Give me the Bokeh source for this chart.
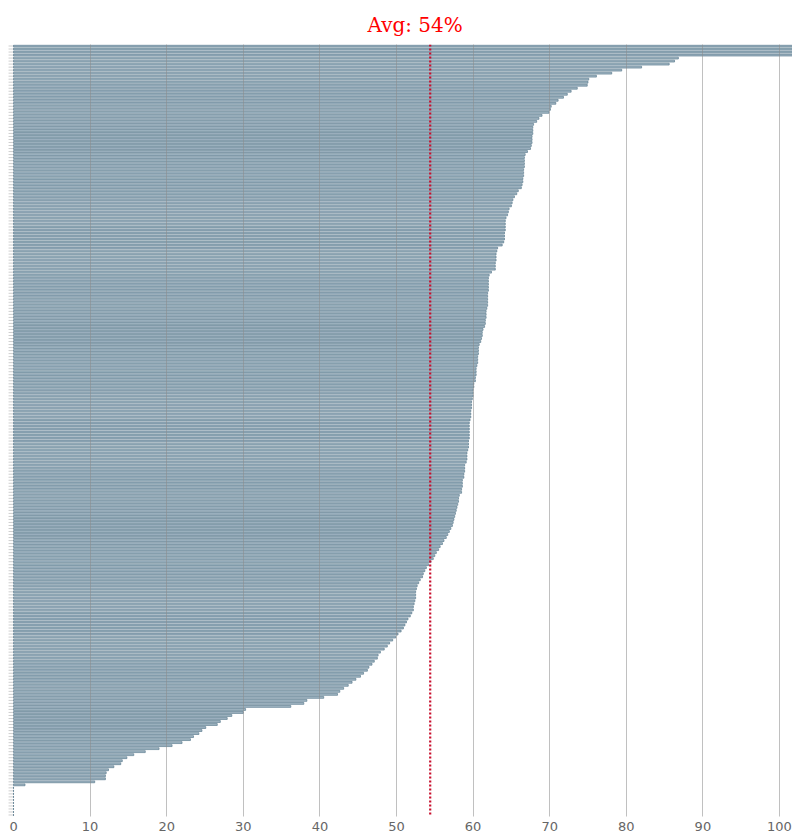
from bokeh.plotting import figure
from bokeh.models import Range1d, FixedTicker, Span, ColumnDataSource
from bokeh.embed import file_html
from bokeh.resources import INLINE

# ---- data (sorted descending) ----
values = [
    110.0, 108.0, 106.0, 104.0, 86.8, 86.3, 85.6, 82.0, 79.4, 78.1,
    76.1, 75.1, 75.0, 74.9, 73.6, 72.8, 72.3, 71.8, 71.1, 70.8,
    70.2, 70.1, 69.9, 69.0, 68.6, 68.3, 67.9, 67.8, 67.8, 67.8,
    67.7, 67.7, 67.7, 67.6, 67.5, 67.1, 66.8, 66.7, 66.7, 66.7,
    66.7, 66.6, 66.6, 66.6, 66.5, 66.5, 66.4, 66.3, 65.9, 65.7,
    65.4, 65.2, 65.1, 65.0, 64.7, 64.6, 64.5, 64.3, 64.2, 64.2,
    64.2, 64.2, 64.1, 64.1, 64.1, 64.0, 63.8, 63.2, 63.1, 63.0,
    63.0, 63.0, 62.9, 62.9, 62.9, 62.4, 62.1, 62.0, 62.0, 62.0,
    62.0, 62.0, 61.9, 61.9, 61.9, 61.9, 61.9, 61.8, 61.7, 61.7,
    61.7, 61.6, 61.6, 61.5, 61.3, 61.2, 61.2, 61.1, 61.0, 60.8,
    60.7, 60.7, 60.7, 60.6, 60.6, 60.6, 60.5, 60.4, 60.4, 60.4,
    60.3, 60.3, 60.1, 60.1, 60.0, 60.0, 60.0, 59.9, 59.8, 59.8,
    59.8, 59.7, 59.7, 59.7, 59.6, 59.5, 59.5, 59.5, 59.5, 59.5,
    59.5, 59.4, 59.4, 59.4, 59.3, 59.2, 59.2, 59.2, 59.1, 58.9,
    58.9, 58.9, 58.8, 58.8, 58.6, 58.6, 58.6, 58.5, 58.5, 58.2,
    58.1, 58.1, 58.0, 57.9, 57.8, 57.7, 57.6, 57.5, 57.4, 57.3,
    57.1, 56.9, 56.7, 56.5, 56.2, 56.0, 55.7, 55.5, 55.2, 55.0,
    54.8, 54.5, 54.2, 53.9, 53.7, 53.5, 53.4, 53.1, 52.9, 52.7,
    52.6, 52.5, 52.5, 52.5, 52.4, 52.3, 52.2, 52.2, 52.0, 51.8,
    51.5, 51.3, 51.1, 50.9, 50.6, 50.2, 49.9, 49.5, 49.1, 48.8,
    48.4, 47.9, 47.6, 47.5, 47.1, 46.8, 46.4, 46.2, 45.7, 45.3,
    44.7, 44.2, 43.7, 43.1, 42.6, 42.3, 40.5, 38.3, 37.9, 36.2,
    30.3, 30.0, 28.5, 27.9, 27.0, 26.6, 25.1, 24.6, 24.2, 23.5,
    23.1, 22.0, 20.7, 19.0, 17.2, 15.7, 14.8, 14.2, 14.0, 13.1,
    12.4, 12.1, 12.0, 12.0, 10.6, 1.5, 0.0, 0.0, 0.0, 0.0,
    0.0, 0.0, 0.0, 0.0, 0.0, 0.0,
]
categories = list(range(len(values)))
avg_value = 54.4
title_text = "Avg: 54%"
x_ticks = [0, 10, 20, 30, 40, 50, 60, 70, 80, 90, 100]
grid_ticks = [10, 20, 30, 40, 50, 60, 70, 80, 90, 100]

N = len(values)
TICK_LEN = 0.65   # length of the small category tick marks, in x units
X_START = -1.70   # room at the left of the zero line
X_END = 101.7
source = ColumnDataSource(data=dict(cat=categories, val=values,
                                    t0=[-TICK_LEN] * N, t1=[0.0] * N))

p = figure(width=792, height=833, output_backend="svg", toolbar_location=None,
           x_range=Range1d(X_START, X_END), y_range=Range1d(N - 0.5, -0.5),
           min_border_left=0, min_border_right=0, min_border_bottom=0,
           min_border_top=44)
p.outline_line_color = None
p.background_fill_color = "white"
p.border_fill_color = "white"

# small category ticks at the left
p.segment(x0="t0", x1="t1", y0="cat", y1="cat", source=source,
          line_color="#cfcfcf", line_width=1)

p.hbar(y="cat", right="val", left=0, height=0.62, source=source,
       fill_color="#a0b5c2", line_color="#5f7e90", line_width=0.7)

# title
p.title.text = title_text
p.title.text_color = "#ff0000"
p.title.text_font = "DejaVu Serif"
p.title.text_font_size = "20px"
p.title.text_font_style = "normal"
p.title.align = "left"
p.title.offset = 367
p.title.standoff = 15

# x axis
p.xaxis.ticker = FixedTicker(ticks=x_ticks)
p.xaxis.axis_line_color = None
p.xaxis.major_tick_line_color = None
p.xaxis.major_tick_out = 0
p.xaxis.major_tick_in = 0
p.xaxis.minor_tick_line_color = None
p.xaxis.major_label_text_color = "#666666"
p.xaxis.major_label_text_font = "DejaVu Sans"
p.xaxis.major_label_text_font_size = "13px"
p.xaxis.major_label_standoff = 5

p.yaxis.visible = False

# grid
p.ygrid.grid_line_color = None
p.xgrid.ticker = FixedTicker(ticks=grid_ticks)
p.xgrid.grid_line_color = "#8c8c8c"
p.xgrid.grid_line_alpha = 0.55
p.xgrid.level = "overlay"

# average line
p.add_layout(Span(location=avg_value, dimension="height", line_color="#c8102e",
                  line_dash="2 2", line_width=2.2))

open("out.html", "w").write(file_html(p, INLINE))
